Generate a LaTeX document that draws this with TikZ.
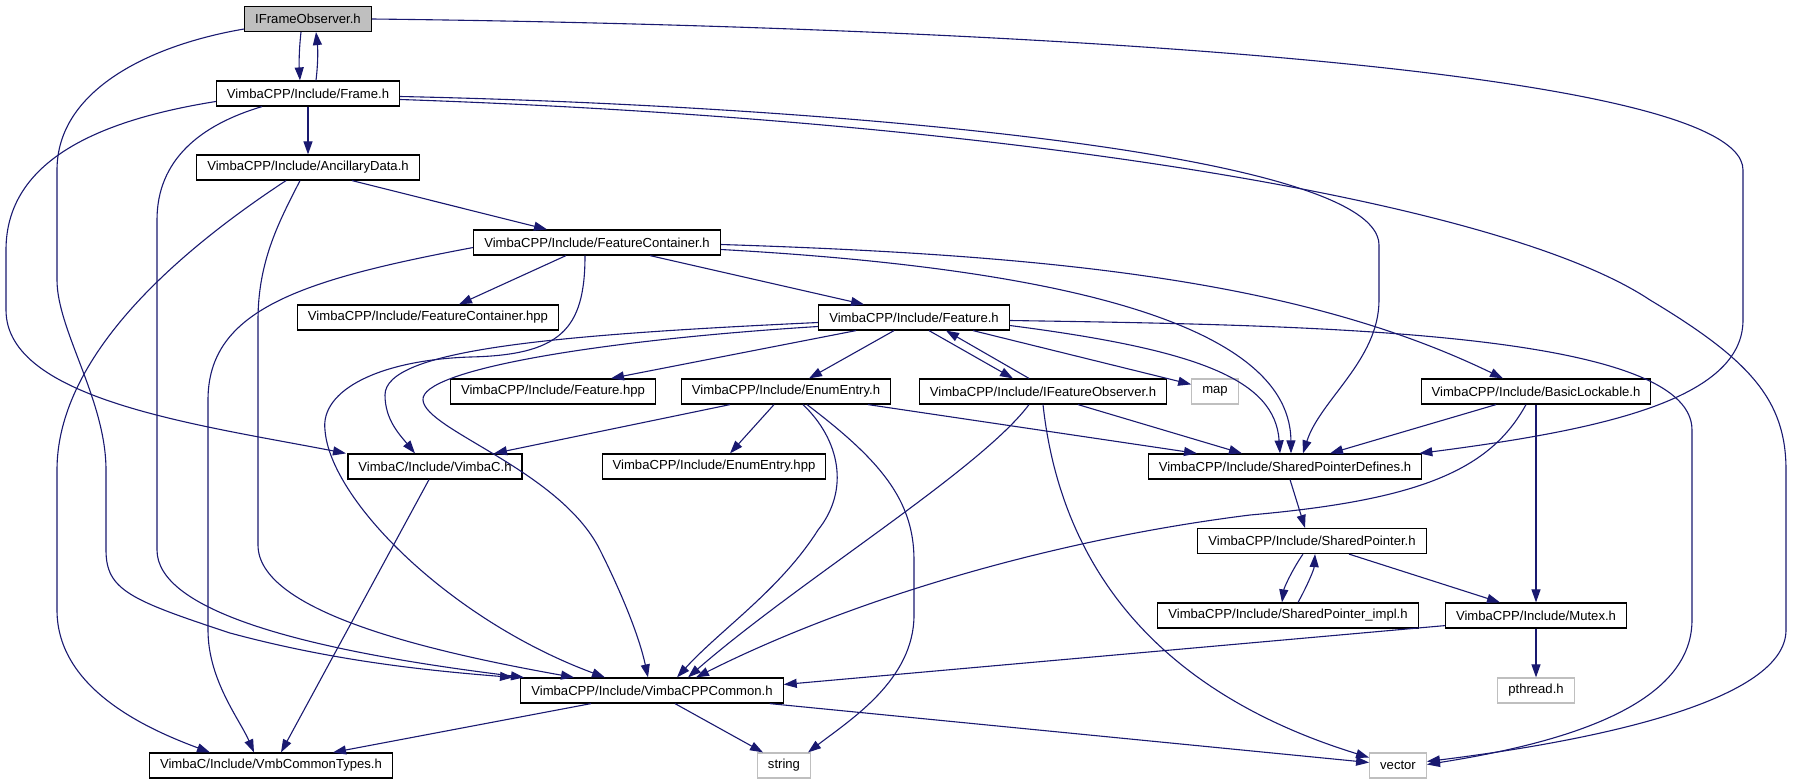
\documentclass[tikz,border=0pt]{standalone}
\usepackage{fontspec}
\setmainfont{Liberation Sans}
\usetikzlibrary{positioning,arrows.meta}
\definecolor{edgeblue}{HTML}{191970}
\definecolor{boxgrey}{HTML}{BFBFBF}

\begin{document}
\begin{tikzpicture}[x=1pt,y=-1pt]
			\tikzstyle{every node}+=[inner xsep=10.5pt, inner ysep=0pt, minimum height=25pt, font=\fontsize{13.1}{15}\selectfont]
			\tikzstyle{hdr}=[draw=black, fill=white, line width=1.2pt]
			\tikzstyle{curhdr}=[draw=black, fill=boxgrey, line width=1.2pt]
			\tikzstyle{syshdr}=[draw=boxgrey, fill=white, line width=1.2pt]
			\tikzstyle{dep}=[draw=edgeblue, line width=1.1pt, -{Triangle[length=13pt,width=9pt]}]
			\useasboundingbox (0,0) rectangle (1793,784);
			\node [curhdr] (ifo) at (308,19) {IFrameObserver.h};
			\node [hdr] (frame) at (308,93.5) {VimbaCPP/Include/Frame.h};
			\node [hdr] (anc) at (308,167.5) {VimbaCPP/Include/AncillaryData.h};
			\node [hdr] (fcont) at (597,242.5) {VimbaCPP/Include/FeatureContainer.h};
			\node [hdr] (fconthpp) at (428,317.5) {VimbaCPP/Include/FeatureContainer.hpp};
			\node [hdr] (feat) at (914,317.5) {VimbaCPP/Include/Feature.h};
			\node [hdr] (feathpp) at (553,391.5) {VimbaCPP/Include/Feature.hpp};
			\node [hdr] (enum) at (786,391.5) {VimbaCPP/Include/EnumEntry.h};
			\node [hdr] (ifeat) at (1043,391.5) {VimbaCPP/Include/IFeatureObserver.h};
			\node [syshdr] (map) at (1215,391.5) {map};
			\node [hdr] (blk) at (1536,391.5) {VimbaCPP/Include/BasicLockable.h};
			\node [hdr] (vimbac) at (435,466.5) {VimbaC/Include/VimbaC.h};
			\node [hdr] (enumhpp) at (714,466.5) {VimbaCPP/Include/EnumEntry.hpp};
			\node [hdr] (spdef) at (1285,466.5) {VimbaCPP/Include/SharedPointerDefines.h};
			\node [hdr] (sptr) at (1312,541) {VimbaCPP/Include/SharedPointer.h};
			\node [hdr] (sptrimpl) at (1288,615.5) {VimbaCPP/Include/SharedPointer\_impl.h};
			\node [hdr] (mutex) at (1536,615.5) {VimbaCPP/Include/Mutex.h};
			\node [syshdr] (pthread) at (1536,690.5) {pthread.h};
			\node [hdr] (common) at (652,690.5) {VimbaCPP/Include/VimbaCPPCommon.h};
			\node [hdr] (vmbtypes) at (271,765.5) {VimbaC/Include/VmbCommonTypes.h};
			\node [syshdr] (string) at (784,765.5) {string};
			\node [syshdr] (vector) at (1398,765.5) {vector};

			\draw [dep] ([xshift=-7pt]ifo.south) .. controls (299,50) and (299,64) .. ([xshift=-8pt]frame.north);
			\draw [dep] ([xshift=8pt]frame.north) .. controls (318,64) and (318,50) .. ([xshift=8pt]ifo.south);
			\draw [dep] ([yshift=-10pt]ifo.west) .. controls (150,45) and (57,90) .. (57,170) -- (57,280) .. controls (57,330) and (106,400) .. (106,470) -- (106,550) .. controls (106,590) and (130,600) .. (230,633) .. controls (330,660) and (420,670) .. ([xshift=-139pt]common.north);
			\draw [dep] (ifo.east) .. controls (900,25) and (1743,60) .. (1743,170) -- (1743,320) .. controls (1743,400) and (1600,430) .. ([xshift=-3pt]spdef.north east);

			\draw [dep] ([yshift=-8pt]frame.west) .. controls (100,120) and (6,160) .. (6,250) -- (6,310) .. controls (6,400) and (200,425) .. ([xshift=-89pt]vimbac.north);
			\draw [dep] ([xshift=-46pt]frame.south) .. controls (200,125) and (157,160) .. (157,220) -- (157,550) .. controls (157,610) and (300,650) .. ([xshift=-128pt]common.north);
			\draw [dep] (frame.south) -- (anc.north);
			\draw [dep] ([yshift=-3pt]frame.east) .. controls (800,105) and (1379,150) .. (1379,245) -- (1379,300) .. controls (1379,360) and (1320,400) .. ([xshift=18pt]spdef.north);
			\draw [dep] ([yshift=-6pt]frame.east) .. controls (1000,120) and (1500,200) .. (1650,300) .. controls (1750,360) and (1786,400) .. (1786,470) -- (1786,630) .. controls (1786,700) and (1600,740) .. ([yshift=4pt]vector.east);

			\draw [dep] ([xshift=44pt]anc.south) -- ([xshift=-50pt]fcont.north);
			\draw [dep] ([xshift=-22pt]anc.south) .. controls (150,270) and (57,370) .. (57,470) -- (57,610) .. controls (57,690) and (150,730) .. ([xshift=-61pt]vmbtypes.north);
			\draw [dep] ([xshift=-8pt]anc.south) .. controls (280,220) and (258,260) .. (258,320) -- (258,545) .. controls (258,610) and (420,650) .. ([xshift=-78pt]common.north);

			\draw [dep] ([yshift=-5pt]fcont.west) .. controls (300,280) and (208,310) .. (208,400) -- (208,630) .. controls (208,680) and (240,720) .. ([xshift=-17pt]vmbtypes.north);
			\draw [dep] ([xshift=-31pt]fcont.south) -- ([xshift=31pt]fconthpp.north);
			\draw [dep] ([xshift=53pt]fcont.south) -- ([xshift=-50pt]feat.north);
			\draw [dep] ([xshift=-12pt]fcont.south) .. controls (585,330) and (560,355) .. (470,357) .. controls (380,360) and (320,390) .. (325,430) .. controls (330,500) and (450,620) .. ([xshift=-47pt]common.north);
			\draw [dep] ([yshift=-7pt]fcont.east) .. controls (1000,265) and (1290,310) .. ([xshift=6pt]spdef.north);
			\draw [dep] ([yshift=-2pt]fcont.east) .. controls (1050,255) and (1300,280) .. ([xshift=-33pt]blk.north);

			\draw [dep] ([yshift=-5pt]feat.west) .. controls (550,335) and (385,350) .. (385,395) .. controls (385,420) and (400,435) .. ([xshift=-20pt]vimbac.north);
			\draw [dep] ([yshift=-9pt]feat.west) .. controls (600,340) and (420,370) .. (423,400) .. controls (425,430) and (560,470) .. (600,550) .. controls (625,600) and (640,640) .. ([xshift=-4pt]common.north);
			\draw [dep] ([xshift=-58pt]feat.south) -- ([xshift=58pt]feathpp.north);
			\draw [dep] ([xshift=-20pt]feat.south) -- ([xshift=23pt]enum.north);
			\draw [dep] ([xshift=15pt]feat.south) -- ([xshift=-30pt]ifeat.north);
			\draw [dep] ([xshift=-14pt]ifeat.north) -- ([xshift=32pt]feat.south);
			\draw [dep] ([xshift=59pt]feat.south) -- ([yshift=-6pt]map.north west);
			\draw [dep] ([yshift=-3pt]feat.east) .. controls (1300,325) and (1692,330) .. (1692,430) -- (1692,620) .. controls (1692,710) and (1550,745) .. ([yshift=1pt]vector.east);
			\draw [dep] ([yshift=-8pt]feat.east) .. controls (1200,350) and (1275,380) .. ([xshift=-5pt]spdef.north);

			\draw [dep] ([xshift=-56pt]enum.south) -- ([xshift=59pt]vimbac.north);
			\draw [dep] ([xshift=-12pt]enum.south) -- ([xshift=16pt]enumhpp.north);
			\draw [dep] ([xshift=17pt]enum.south) .. controls (840,440) and (850,490) .. (818,530) .. controls (780,590) and (720,630) .. ([xshift=25pt]common.north);
			\draw [dep] ([xshift=21pt]enum.south) .. controls (880,460) and (914,500) .. (914,560) -- (914,615) .. controls (914,680) and (850,720) .. ([xshift=24pt]string.north);
			\draw [dep] ([xshift=82pt]enum.south) -- ([xshift=-88pt]spdef.north);

			\draw [dep] ([xshift=-14pt]ifeat.south) .. controls (980,470) and (800,580) .. ([xshift=36pt]common.north);
			\draw [dep] (ifeat.south) .. controls (1060,560) and (1150,690) .. ([yshift=8pt]vector.west);
			\draw [dep] ([xshift=35pt]ifeat.south) -- ([xshift=-43pt]spdef.north);

			\draw [dep] ([xshift=-40pt]blk.south) -- ([xshift=45pt]spdef.north);
			\draw [dep] (blk.south) -- (mutex.north);
			\draw [dep] ([xshift=-10pt]blk.south) .. controls (1490,470) and (1420,500) .. (1250,515) .. controls (1050,540) and (850,600) .. ([xshift=44pt]common.north);

			\draw [dep] ([xshift=5pt]spdef.south) -- ([xshift=-7pt]sptr.north);
			\draw [dep] ([xshift=-9pt]sptr.south) .. controls (1292,570) and (1284,588) .. ([xshift=-6pt]sptrimpl.north);
			\draw [dep] ([xshift=10pt]sptrimpl.north) .. controls (1306,588) and (1314,570) .. ([xshift=3pt]sptr.south);
			\draw [dep] ([xshift=37pt]sptr.south) -- ([xshift=-36pt]mutex.north);
			\draw [dep] ([yshift=3pt]mutex.south west) -- ([yshift=6pt]common.east);
			\draw [dep] (mutex.south) -- (pthread.north);

			\draw [dep] ([xshift=-61pt]common.south) -- ([xshift=62pt]vmbtypes.north);
			\draw [dep] ([xshift=23pt]common.south) -- ([xshift=-21pt]string.north);
			\draw [dep] ([xshift=-14pt]common.south east) -- ([yshift=3pt]vector.west);
			\draw [dep] ([xshift=-6pt]vimbac.south) -- ([xshift=10pt]vmbtypes.north);
\end{tikzpicture}
\end{document}
